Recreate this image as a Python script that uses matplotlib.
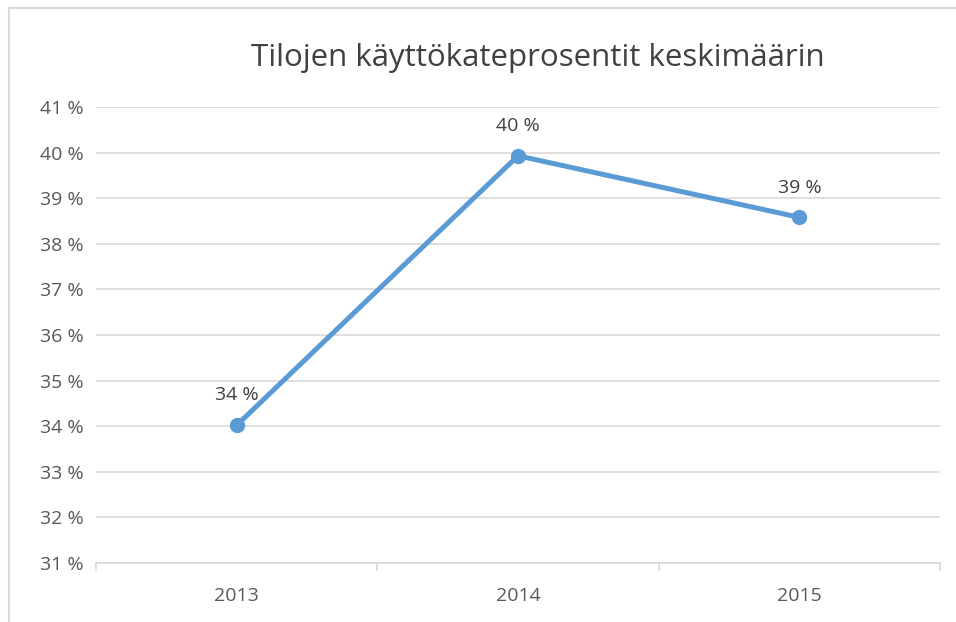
import matplotlib
matplotlib.use("Agg")
import matplotlib.pyplot as plt
from matplotlib.lines import Line2D

years = ["2013", "2014", "2015"]
values = [34.02, 39.93, 38.58]
labels = ["34 %", "40 %", "39 %"]
yticks = list(range(31, 42))

plt.rcParams['font.family'] = ['Open Sans', 'DejaVu Sans']
fig = plt.figure(figsize=(9.56, 6.22), dpi=100)
ax = fig.add_axes([96/956, 1-563/622, (940-96)/956, (563-107)/622])

x = list(range(len(years)))
ax.plot(x, values, color='#5b9bd5', lw=3.6, marker='o', ms=10, solid_capstyle='round', zorder=3)
for xi, v, lab in zip(x, values, labels):
    ax.annotate(lab, (xi, v), xytext=(0, 15), textcoords='offset points', ha='center', va='bottom',
                fontsize=14, color='#404040')

ax.set_xlim(-0.5, 2.5)
ax.set_ylim(31, 41)
ax.set_yticks(yticks)
ax.set_yticklabels([f"{t} %" for t in yticks], fontsize=14, color='#595959')
ax.set_xticks(x)
ax.set_xticklabels(years, fontsize=14, color='#595959')
ax.set_xticks([-0.5, 0.5, 1.5, 2.5], minor=True)
ax.tick_params(axis='y', length=0, pad=9)
ax.tick_params(axis='x', which='major', length=0, pad=17)
ax.tick_params(axis='x', which='minor', length=6, color='#d9d9d9', width=1.2, direction='out')
ax.grid(axis='y', color='#d9d9d9', lw=1.2)
ax.set_axisbelow(True)
for s in ['top', 'right', 'left']:
    ax.spines[s].set_visible(False)
ax.spines['bottom'].set_color('#d9d9d9')
ax.spines['bottom'].set_linewidth(1.2)

fig.text(538/956, 1-58/622, "Tilojen käyttökateprosentit keskimäärin", ha='center', va='center',
         fontsize=22.5, color='#404040')

fig.add_artist(Line2D([9/956, 9/956], [0, 1-8/622], color='#d9d9d9', lw=1.5, transform=fig.transFigure))
fig.add_artist(Line2D([9/956, 1], [1-8/622, 1-8/622], color='#d9d9d9', lw=1.5, transform=fig.transFigure))

fig.savefig("out.png", dpi=100, facecolor='white')
